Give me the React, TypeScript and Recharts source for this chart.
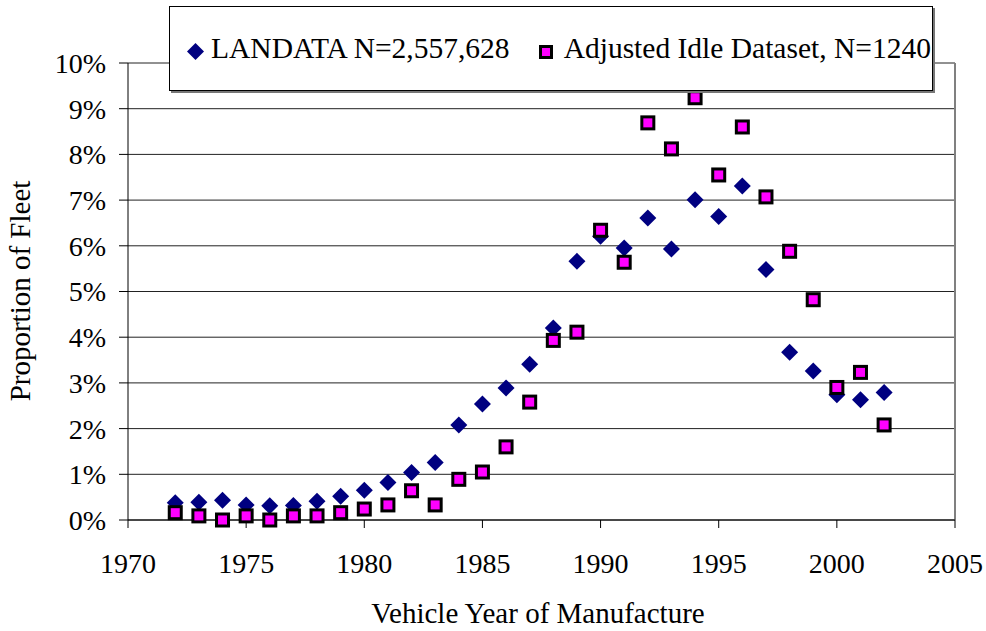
import { CartesianGrid, Label, Legend, ReferenceLine, Scatter, ScatterChart, XAxis, YAxis } from "recharts";

const years = [
  1972, 1973, 1974, 1975, 1976, 1977, 1978, 1979, 1980, 1981, 1982, 1983, 1984, 1985, 1986, 1987,
  1988, 1989, 1990, 1991, 1992, 1993, 1994, 1995, 1996, 1997, 1998, 1999, 2000, 2001, 2002,
];

// share of fleet, in percent
const landata = [
  0.38, 0.39, 0.43, 0.33, 0.31, 0.32, 0.41, 0.52, 0.65, 0.82, 1.04, 1.26, 2.08, 2.54, 2.89, 3.41,
  4.2, 5.66, 6.21, 5.95, 6.61, 5.93, 7.01, 6.64, 7.31, 5.48, 3.67, 3.26, 2.74, 2.63, 2.79,
];
const adjusted = [
  0.16, 0.09, 0.0, 0.09, 0.0, 0.09, 0.09, 0.16, 0.24, 0.33, 0.64, 0.33, 0.89, 1.05, 1.6, 2.58,
  3.93, 4.11, 6.34, 5.64, 8.69, 8.12, 9.24, 7.55, 8.6, 7.07, 5.88, 4.82, 2.9, 3.23, 2.08,
];

const xTicks = [1970, 1975, 1980, 1985, 1990, 1995, 2000, 2005];
const yTicks = [0, 1, 2, 3, 4, 5, 6, 7, 8, 9, 10];

const landataName = "LANDATA N=2,557,628";
const adjustedName = "Adjusted Idle Dataset, N=1240";

const FONT = "Liberation Serif";
const NAVY = "#000080";
const MAGENTA = "#FF00FF";

const landataPts = years.map((year, i) => ({ year, share: landata[i] }));
const adjustedPts = years.map((year, i) => ({ year, share: adjusted[i] }));

function Diamond(props: any) {
  const { cx, cy } = props;
  const r = 8.5;
  return <polygon points={`${cx},${cy - r} ${cx + r},${cy} ${cx},${cy + r} ${cx - r},${cy}`} fill={NAVY} />;
}

function Square(props: any) {
  const { cx, cy } = props;
  const s = 12;
  return <rect x={cx - s / 2} y={cy - s / 2} width={s} height={s} fill={MAGENTA} stroke="#000" strokeWidth={3} />;
}

function LegendBox() {
  return (
    <div
      style={{
        boxSizing: "border-box",
        width: 764,
        height: 85,
        border: "1px solid #000",
        boxShadow: "2px 2px 0 #777",
        background: "#fff",
        display: "flex",
        alignItems: "center",
        fontFamily: FONT,
        fontSize: 29.5,
        color: "#000",
        paddingLeft: 17,
        whiteSpace: "nowrap",
      }}
    >
      <svg width={17} height={17} style={{ marginRight: 7, marginTop: 6 }}>
        <polygon points="8.5,0 17,8.5 8.5,17 0,8.5" fill={NAVY} />
      </svg>
      <span>{landataName}</span>
      <svg width={14} height={14} style={{ marginLeft: 29, marginRight: 11, marginTop: 6 }}>
        <rect x={1.5} y={1.5} width={11} height={11} fill={MAGENTA} stroke="#000" strokeWidth={3} />
      </svg>
      <span>{adjustedName}</span>
    </div>
  );
}

export default function App() {
  return (
    <div style={{ position: "absolute", left: 0, top: 0, background: "#fff", fontFamily: FONT }}>
      <ScatterChart width={986} height={631} margin={{ top: 63, right: 31, bottom: 0, left: 0 }}>
        <CartesianGrid horizontal vertical={false} stroke="#222" strokeWidth={1} />
        <XAxis
          type="number"
          dataKey="year"
          domain={[1970, 2005]}
          ticks={xTicks}
          height={111}
          tickSize={8}
          tickMargin={25}
          stroke="#000"
          tick={{ fill: "#000", fontFamily: FONT, fontSize: 28 }}
        >
          <Label
            content={() => (
              <text x={538} y={623} textAnchor="middle" fontFamily={FONT} fontSize={29} fill="#000">
                Vehicle Year of Manufacture
              </text>
            )}
          />
        </XAxis>
        <YAxis
          type="number"
          dataKey="share"
          domain={[0, 10]}
          ticks={yTicks}
          width={128}
          tickSize={9}
          tickMargin={13}
          stroke="#000"
          tickFormatter={(v: number) => `${v}%`}
          tick={{ fill: "#000", fontFamily: FONT, fontSize: 28 }}
        >
          <Label
            content={() => (
              <text
                x={30}
                y={291}
                transform="rotate(-90 30 291)"
                textAnchor="middle"
                fontFamily={FONT}
                fontSize={29}
                fill="#000"
              >
                Proportion of Fleet
              </text>
            )}
          />
        </YAxis>
        <ReferenceLine x={2005} stroke="#808080" strokeWidth={2} />
        <Legend
          layout="horizontal"
          verticalAlign="middle"
          align="center"
          wrapperStyle={{ top: 6, left: 169, width: 764, height: 85 }}
          content={() => <LegendBox />}
        />
        <Scatter name={landataName} data={landataPts} shape={<Diamond />} isAnimationActive={false} />
        <Scatter name={adjustedName} data={adjustedPts} shape={<Square />} isAnimationActive={false} />
      </ScatterChart>
    </div>
  );
}
